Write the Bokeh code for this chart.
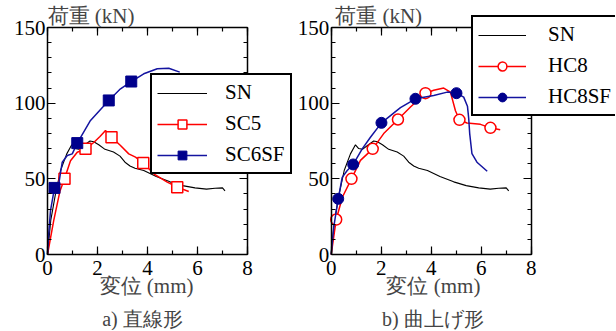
from bokeh.plotting import figure
from bokeh.layouts import row
from bokeh.models import (Range1d, LinearAxis, SingleIntervalTicker, Label,
                          Legend, LegendItem)
from bokeh.embed import file_html
from bokeh.resources import INLINE

# ---------------- data ----------------
sn_x = [0, 0.13, 0.32, 0.52, 0.77, 0.97, 1.1, 1.25, 1.45, 1.7, 1.85, 2.05, 2.3, 2.64,
        2.9, 3.1, 3.3, 3.5, 3.85, 4.35, 4.9, 5.4, 5.9, 6.36, 6.7, 7.0, 7.1]
sn_y = [0, 22.5, 40, 55.5, 66.5, 72.5, 70, 69.5, 72, 75, 74.5, 72.5, 69.5, 67.7,
        65, 61, 58.5, 57, 55.5, 51.5, 48, 45.5, 44, 43.2, 43.8, 44, 42]

sc5_x = [0, 0.25, 0.5, 0.68, 0.92, 1.19, 1.52, 1.85, 2.1, 2.32, 2.45, 2.56, 2.92,
         3.25, 3.52, 3.83, 4.25, 4.79, 5.19, 5.65]
sc5_y = [0, 22.5, 42, 50, 62, 67.6, 69.8, 74, 78, 82, 79, 77.5, 72,
         66.5, 64.3, 60.4, 53.3, 47.8, 44.5, 41.6]
sc5_mx = [0.68, 1.52, 2.56, 3.83, 5.19]
sc5_my = [50, 69.8, 77.5, 60.4, 44.5]

sc6sf_x = [0, 0.05, 0.12, 0.28, 0.45, 0.59, 0.79, 0.99, 1.19, 1.72, 2.45, 2.92,
           3.35, 3.85, 4.39, 4.85, 5.29]
sc6sf_y = [0, 14, 29, 44, 46.7, 61, 65.4, 66.5, 73.6, 88.6, 101.8, 109.5,
           114.3, 119.4, 122.7, 123.1, 120.5]
sc6sf_mx = [0.28, 1.19, 2.45, 3.35]
sc6sf_my = [44, 73.6, 101.8, 114.3]

hc8_x = [0, 0.2, 0.45, 0.81, 1.17, 1.66, 2.1, 2.67, 3.17, 3.77, 4.1, 4.5, 4.77,
         4.97, 5.13, 5.43, 5.97, 6.37, 6.76]
hc8_y = [0, 23.1, 38, 50, 62.2, 69.8, 79.9, 89.2, 97.5, 106.6, 108.5, 110, 107.3,
         95, 89, 86.9, 86, 83.7, 82.5]
hc8_mx = [0.2, 0.81, 1.66, 2.67, 3.77, 5.13, 6.37]
hc8_my = [23.1, 50, 69.8, 89.2, 106.6, 89, 83.7]

hc8sf_x = [0, 0.1, 0.28, 0.44, 0.64, 0.88, 1.24, 1.57, 2.01, 2.77, 3.37, 4.1, 4.64,
           5.01, 5.3, 5.45, 5.5, 5.54, 5.63, 5.83, 6.24]
hc8sf_y = [0, 18, 36.8, 51, 55.5, 59.5, 69.8, 77.5, 87, 97, 102.9, 105, 107.3,
           106.6, 104, 98, 90, 79.9, 66.6, 61, 55]
hc8sf_mx = [0.28, 0.88, 2.01, 3.37, 5.01]
hc8sf_my = [36.8, 59.5, 87, 102.9, 106.6]

x_label = "変位 (mm)"
y_label = "荷重 (kN)"
titles = ["a) 直線形", "b) 曲上げ形"]
X_MAX, Y_MAX = 8, 150

# ---------------- styling / layout constants ----------------
FONT = "Liberation Serif"
RED = "#ff0000"
BLUE_LINE = "#1414a0"
BLUE_MARK = "#00008c"
H = 330                 # figure height (px)
PX_PER_X = 25.0         # px per mm
PX_PER_Y = 227.0 / 150  # px per kN
AXIS_Y0 = 254           # pixel row of y = 0 inside each figure


def style_axis(ax, labels):
    ax.axis_line_color = "black"
    ax.axis_line_width = 1.5
    ax.major_tick_line_color = "black"
    ax.major_tick_line_width = 1.2
    ax.minor_tick_line_color = "black"
    ax.minor_tick_line_width = 1.2
    ax.major_tick_in = 8
    ax.major_tick_out = 0
    ax.minor_tick_in = 4
    ax.minor_tick_out = 0
    ax.major_label_text_font = FONT
    ax.major_label_text_font_size = "21px"
    ax.major_label_text_color = "black" if labels else None


def make_panel(width, x0px, series, legend_loc, leg_kw, xl_cx, sub, sub_cx, ylab_dx):
    xr = Range1d(-x0px / PX_PER_X, (width - x0px) / PX_PER_X)
    yr = Range1d(-(H - AXIS_Y0) / PX_PER_Y, AXIS_Y0 / PX_PER_Y)
    p = figure(width=width, height=H, output_backend="svg", toolbar_location=None,
               x_range=xr, y_range=yr, x_axis_type=None, y_axis_type=None,
               min_border_left=0, min_border_right=0,
               min_border_top=0, min_border_bottom=0)
    p.outline_line_color = None
    p.background_fill_color = "white"
    p.border_fill_color = "white"

    xt = dict(interval=2, num_minor_ticks=2)
    yt = dict(interval=50, num_minor_ticks=5)
    bottom = LinearAxis(ticker=SingleIntervalTicker(**xt), fixed_location=0,
                        bounds=(0, X_MAX))
    style_axis(bottom, True)
    bottom.major_label_standoff = 6
    top = LinearAxis(ticker=SingleIntervalTicker(**xt), fixed_location=Y_MAX,
                     bounds=(0, X_MAX))
    style_axis(top, False)
    left = LinearAxis(ticker=SingleIntervalTicker(**yt), fixed_location=0,
                      bounds=(0, Y_MAX))
    style_axis(left, True)
    left.major_label_standoff = 2
    right = LinearAxis(ticker=SingleIntervalTicker(**yt), fixed_location=X_MAX,
                       bounds=(0, Y_MAX))
    style_axis(right, False)
    p.add_layout(bottom, "below")
    p.add_layout(top, "above")
    p.add_layout(left, "left")
    p.add_layout(right, "right")

    items = []
    for name, lx, ly, mx, my, kind in series:
        if kind == "sn":
            r = p.line(lx, ly, line_color="black", line_width=1.1)
            items.append(LegendItem(label=name, renderers=[r]))
            continue
        if kind in ("open_sq", "open_ci"):
            r1 = p.line(lx, ly, line_color=RED, line_width=1.5)
            r2 = p.scatter(mx, my, marker="square" if kind == "open_sq" else "circle",
                           size=11, fill_color="white", line_color=RED, line_width=1.5)
        else:
            r1 = p.line(lx, ly, line_color=BLUE_LINE, line_width=1.5)
            r2 = p.scatter(mx, my, marker="square" if kind == "fill_sq" else "circle",
                           size=11, fill_color=BLUE_MARK, line_color=BLUE_MARK,
                           line_width=1)
        items.append(LegendItem(label=name, renderers=[r1, r2]))

    leg = Legend(items=items, location=legend_loc,
                 border_line_color="black", border_line_width=2.5,
                 border_line_alpha=1,
                 background_fill_color="white", background_fill_alpha=1,
                 label_text_font=FONT, label_text_font_size="21px",
                 label_text_color="black", label_height=22, glyph_height=22,
                 spacing=6, margin=0, padding=5, **leg_kw)
    p.add_layout(leg)

    p.add_layout(Label(x=0, y=Y_MAX, x_offset=ylab_dx, text=y_label, text_font=FONT,
                       text_font_size="21px", text_baseline="bottom",
                       text_align="left"))
    p.add_layout(Label(x=xl_cx, y=-(285 - AXIS_Y0) / PX_PER_Y, text=x_label,
                       text_font=FONT, text_font_size="21px",
                       text_baseline="middle", text_align="center"))
    p.add_layout(Label(x=sub_cx, y=-(318 - AXIS_Y0) / PX_PER_Y, text=sub,
                       text_font=FONT, text_font_size="20px",
                       text_baseline="middle", text_align="center"))
    return p


p1 = make_panel(293, 47,
                [("SN", sn_x, sn_y, None, None, "sn"),
                 ("SC5", sc5_x, sc5_y, sc5_mx, sc5_my, "open_sq"),
                 ("SC6SF", sc6sf_x, sc6sf_y, sc6sf_mx, sc6sf_my, "fill_sq")],
                (150, H - 166 - 8), dict(glyph_width=50, label_standoff=18),
                3.96, titles[0], 3.8, 0)
p2 = make_panel(322, 37.7,
                [("SN", sn_x, sn_y, None, None, "sn"),
                 ("HC8", hc8_x, hc8_y, hc8_mx, hc8_my, "open_ci"),
                 ("HC8SF", hc8sf_x, hc8sf_y, hc8sf_mx, hc8sf_my, "fill_ci")],
                (178, H - 108 - 8), dict(glyph_width=48, label_standoff=22),
                4.09, titles[1], 4.07, 4)

layout = row(p1, p2)
open("out.html", "w").write(file_html(layout, INLINE))
